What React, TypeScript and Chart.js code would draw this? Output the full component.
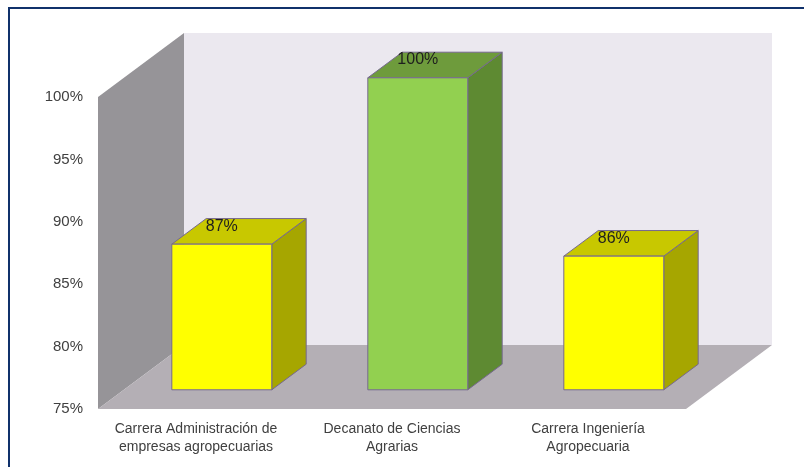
import React, { useEffect, useRef } from "react";
import { Chart, registerables } from "chart.js";

Chart.register(...registerables);

// ---- data ----
const categories: string[][] = [
  ["Carrera Administración de", "empresas agropecuarias"],
  ["Decanato de Ciencias", "Agrarias"],
  ["Carrera Ingeniería", "Agropecuaria"],
];
const values: number[] = [86.67, 100, 85.71];
const frontColors: string[] = ["#FFFF00", "#92D050", "#FFFF00"];
const sideColors: string[] = ["#A6A600", "#5E8A32", "#A6A600"];
const topColors: string[] = ["#C8C800", "#6E9B3C", "#C8C800"];
const yMin = 75;
const yMax = 100;
const yStep = 5;

// ---- 3D styling constants ----
const DX = 86;
const DY = -64;
const F0 = 0.3;
const F1 = 0.7;
const FONT = "'Liberation Sans', Arial, sans-serif";

function poly(ctx: CanvasRenderingContext2D, pts: number[][], fill: string, stroke?: string) {
  ctx.beginPath();
  ctx.moveTo(pts[0][0], pts[0][1]);
  for (let i = 1; i < pts.length; i++) ctx.lineTo(pts[i][0], pts[i][1]);
  ctx.closePath();
  ctx.fillStyle = fill;
  ctx.fill();
  if (stroke) {
    ctx.strokeStyle = stroke;
    ctx.lineWidth = 1;
    ctx.stroke();
  }
}

const threeD = {
  id: "threeD",
  beforeDatasetsDraw(chart: any) {
    const { ctx, chartArea } = chart;
    const y = chart.scales.y;
    const left = chartArea.left;
    const right = chartArea.right;
    const top = y.getPixelForValue(yMax);
    const bot = y.getPixelForValue(yMin);
    ctx.save();
    poly(ctx, [[left + DX, top + DY], [right + DX, top + DY], [right + DX, bot + DY], [left + DX, bot + DY]], "#EBE8EF");
    poly(ctx, [[left, top], [left + DX, top + DY], [left + DX, bot + DY], [left, bot]], "#969498");
    poly(ctx, [[left, bot], [right, bot], [right + DX, bot + DY], [left + DX, bot + DY]], "#B4AFB5");
    ctx.restore();
  },
  afterDatasetsDraw(chart: any) {
    const { ctx } = chart;
    const y = chart.scales.y;
    const meta = chart.getDatasetMeta(0);
    const ox = F0 * DX;
    const oy = F0 * DY;
    const dx = (F1 - F0) * DX;
    const dy = (F1 - F0) * DY;
    const edge = "#76688F";
    const basePx = y.getPixelForValue(yMin);
    ctx.save();
    meta.data.forEach((bar: any, i: number) => {
      const w = bar.width;
      const l = bar.x - w / 2 + ox;
      const r = bar.x + w / 2 + ox;
      const t = bar.y + oy;
      const b = basePx + oy;
      poly(ctx, [[r, t], [r + dx, t + dy], [r + dx, b + dy], [r, b]], sideColors[i], edge);
      poly(ctx, [[l, t], [r, t], [r + dx, t + dy], [l + dx, t + dy]], topColors[i], edge);
      poly(ctx, [[l, t], [r, t], [r, b], [l, b]], frontColors[i], edge);
      ctx.fillStyle = "#1E1E1E";
      ctx.font = `16px ${FONT}`;
      ctx.textAlign = "center";
      ctx.textBaseline = "middle";
      ctx.fillText(Math.round(values[i]) + "%", (l + r) / 2, t - 18);
    });
    ctx.restore();
  },
};

export default function App() {
  const ref = useRef<HTMLCanvasElement | null>(null);
  useEffect(() => {
    if (!ref.current) return;
    const chart = new Chart(ref.current, {
      type: "bar",
      data: {
        labels: categories,
        datasets: [
          {
            data: values,
            backgroundColor: "rgba(0,0,0,0)",
            borderWidth: 0,
            barPercentage: 1,
            categoryPercentage: 0.51,
          },
        ],
      },
      options: {
        animation: false,
        responsive: false,
        layout: { padding: { left: 0, right: 118, top: 88, bottom: 0 } },
        plugins: { legend: { display: false }, tooltip: { enabled: false } },
        scales: {
          x: {
            grid: { display: false, drawTicks: false },
            border: { display: false },
            ticks: {
              maxRotation: 0,
              autoSkip: false,
              padding: 11,
              color: "#404040",
              font: { family: FONT, size: 14, lineHeight: 1.28 },
            },
            afterFit: (s: any) => {
              s.height = 58;
            },
          },
          y: {
            min: yMin,
            max: yMax,
            grid: { display: false, drawTicks: false },
            border: { display: false },
            ticks: {
              stepSize: yStep,
              padding: 15,
              color: "#404040",
              font: { family: FONT, size: 15 },
              callback: (v: any) => v + "%",
            },
            afterFit: (s: any) => {
              s.width = 88;
            },
          },
        },
      },
      plugins: [threeD],
    });
    return () => chart.destroy();
  }, []);
  return (
    <div
      style={{
        position: "fixed",
        left: 8,
        top: 7,
        right: 0,
        bottom: 0,
        overflow: "hidden",
      }}
    >
      <div
        style={{
          borderTop: "2px solid #10316B",
          borderLeft: "2px solid #10316B",
          width: 900,
          height: 600,
          background: "#FFFFFF",
        }}
      >
        <canvas ref={ref} width={794} height={458} style={{ display: "block" }} />
      </div>
    </div>
  );
}
